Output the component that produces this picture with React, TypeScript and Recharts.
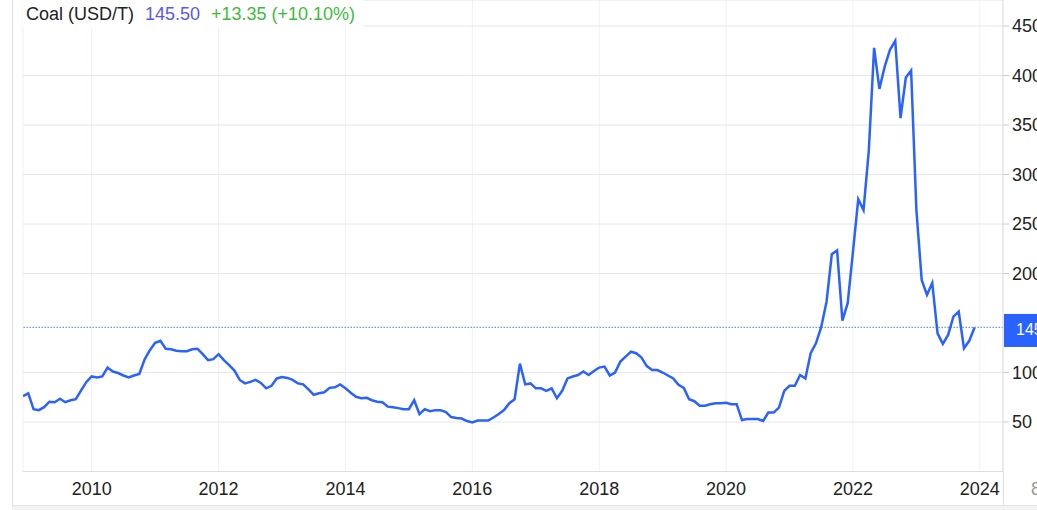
import React from 'react';
import { LineChart, Line, XAxis, YAxis, CartesianGrid, ReferenceLine } from 'recharts';

// monthly coal price, USD/T (2008 holds December only)
const coal2008 = [76];
const coal2009 = [79, 63, 62, 65, 70.5, 70, 73.5, 70, 72, 73, 82, 90.5];
const coal2010 = [96, 95, 96, 105, 101, 99.5, 97, 95, 97, 98.5, 113, 122.5];
const coal2011 = [130, 132, 124, 123.5, 122, 121.5, 121.5, 123.5, 124, 118.5, 112.5, 113.5];
const coal2012 = [118.5, 112.5, 107.5, 102, 92.5, 89, 90.5, 92.5, 89.5, 84, 86.5, 94];
const coal2013 = [95.5, 94.5, 92.5, 89, 88, 83, 77.5, 79, 80, 84.5, 85, 88];
const coal2014 = [84, 79.5, 75.5, 74, 74.5, 72, 70.5, 70, 65.5, 65, 64, 63];
const coal2015 = [63, 72, 58, 63, 61, 62, 62, 60, 55, 54, 53.5, 51];
const coal2016 = [49.5, 51.5, 51.5, 51.5, 54.5, 58, 62, 69, 73, 109, 88, 89];
const coal2017 = [84, 84, 81.5, 84, 74, 81.5, 94, 96, 97.5, 101, 97.5, 101.5];
const coal2018 = [105, 106, 97, 100, 111, 116, 121, 119.5, 115, 106.5, 102.5, 102.5];
const coal2019 = [100, 97, 94, 87.5, 84.5, 73, 71, 66.5, 66.5, 68, 69, 69];
const coal2020 = [69.5, 68, 68, 52, 53, 53, 53, 51, 59.5, 59.5, 64.5, 81.5];
const coal2021 = [86.5, 86.5, 97.5, 94, 119.5, 129.5, 146, 171.5, 219.5, 223.5, 152.5, 170];
const coal2022 = [222, 275, 264, 324.5, 428, 386.5, 409, 426, 435, 357, 398, 405];
const coal2023 = [264, 193.5, 178.5, 190.5, 139.5, 129, 138, 156.5, 161.5, 124.5, 132, 145.5];

const xTicks = [2010, 2012, 2014, 2016, 2018, 2020, 2022, 2024];
const yTicks = [50, 100, 200, 250, 300, 350, 400, 450]; // 150 sits under the price badge
const lastPrice = 145.5;

const years: [number, number[]][] = [
    [2008, coal2008], [2009, coal2009], [2010, coal2010], [2011, coal2011], [2012, coal2012],
    [2013, coal2013], [2014, coal2014], [2015, coal2015], [2016, coal2016], [2017, coal2017],
    [2018, coal2018], [2019, coal2019], [2020, coal2020], [2021, coal2021], [2022, coal2022],
    [2023, coal2023],
];

const data = years.flatMap(([year, vals]) => {
    const first = 12 - vals.length;
    return vals.map((v, i) => ({ t: year + (first + i) / 12, price: v }));
});

const font = 'Arial, "Liberation Sans", sans-serif';

const PriceBadge = ({ viewBox }: any) => {
    const x = viewBox.x + viewBox.width;
    const y = viewBox.y;
    return (
        <g>
            <rect x={x + 1} y={y - 13.5} width={40} height={33} fill="#2962ff" />
            <text x={x + 13} y={y + 7.5} fill="#ffffff" fontSize={16} fontFamily={font}>
                {lastPrice.toFixed(2)}
            </text>
        </g>
    );
};

export default function App() {
    return (
        <div style={{ position: 'absolute', left: 0, top: 0, width: 1037, height: 510, background: '#fff', fontFamily: font, overflow: 'hidden' }}>
            <LineChart width={1037} height={510} data={data} margin={{ top: 0, right: 0, bottom: 0, left: 23 }}>
                <CartesianGrid horizontal={false} stroke="#edf2f7" />
                <CartesianGrid vertical={false} stroke="#e6e6e6" />
                <XAxis
                    dataKey="t"
                    type="number"
                    domain={[2008.917, 2024.365]}
                    ticks={xTicks}
                    allowDataOverflow
                    height={38.5}
                    axisLine={{ stroke: '#dddddd' }}
                    tickLine={false}
                    tickMargin={5}
                    tick={{ fill: '#222', fontSize: 18, fontFamily: font }}
                />
                <YAxis
                    orientation="right"
                    domain={[0, 476.3]}
                    ticks={yTicks}
                    allowDataOverflow
                    width={34}
                    axisLine={{ stroke: '#dddddd' }}
                    tickLine={{ stroke: '#cccccc' }}
                    tickSize={6}
                    tickMargin={3}
                    tick={{ fill: '#222', fontSize: 18, fontFamily: font, textAnchor: 'start' }}
                />
                <ReferenceLine y={lastPrice} stroke="#6e93fa" strokeWidth={1.3} strokeDasharray="1.5 1.5" label={<PriceBadge />} />
                <Line type="linear" dataKey="price" stroke="#2962ff" strokeWidth={2.5} dot={false} isAnimationActive={false} />
            </LineChart>
            {/* title box */}
            <div style={{ position: 'absolute', left: 23, top: 0, width: 340, height: 27, background: '#fff' }} />
            <div style={{ position: 'absolute', left: 26, top: 5, fontSize: 18, lineHeight: '18px', color: '#222', whiteSpace: 'nowrap' }}>Coal (USD/T)</div>
            <div style={{ position: 'absolute', left: 145, top: 5, fontSize: 18, lineHeight: '18px', color: '#5858f2', whiteSpace: 'nowrap' }}>145.50</div>
            <div style={{ position: 'absolute', left: 211, top: 5, fontSize: 18, lineHeight: '18px', color: '#3dbb3d', whiteSpace: 'nowrap' }}>+13.35 (+10.10%)</div>
            {/* frame lines */}
            <div style={{ position: 'absolute', left: 12, top: 0, width: 1, height: 506, background: '#dddddd' }} />
            <div style={{ position: 'absolute', left: 1003, top: 471, width: 1, height: 35, background: '#dddddd' }} />
            <div style={{ position: 'absolute', left: 12, top: 505, width: 1025, height: 5, background: '#f2f2f2', borderTop: '1px solid #e2e2e2' }} />
            <div style={{ position: 'absolute', left: 1031, top: 480, fontSize: 18, lineHeight: '18px', color: '#999', whiteSpace: 'nowrap' }}>8</div>
        </div>
    );
}
